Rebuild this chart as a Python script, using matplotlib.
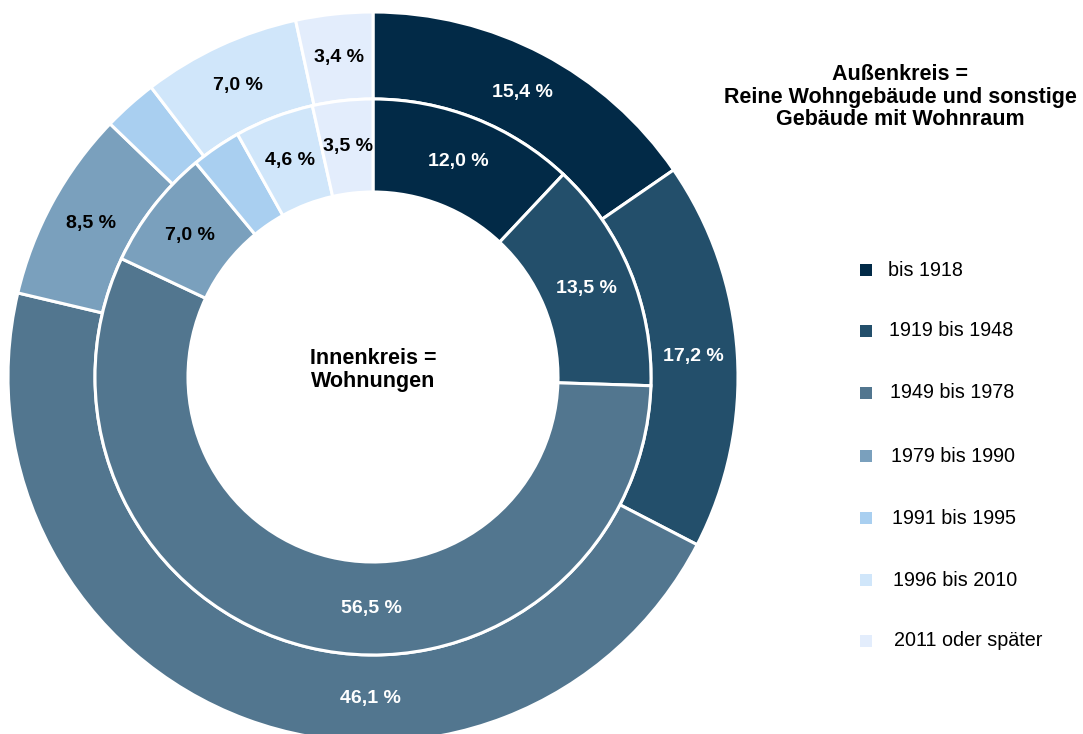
import numpy as np
import matplotlib
matplotlib.use("Agg")
import matplotlib.pyplot as plt

categories = ["bis 1918", "1919 bis 1948", "1949 bis 1978", "1979 bis 1990",
              "1991 bis 1995", "1996 bis 2010", "2011 oder später"]
outer_values = [15.4, 17.2, 46.1, 8.5, 2.4, 7.0, 3.4]   # Gebäude
inner_values = [12.0, 13.5, 56.5, 7.0, 2.9, 4.6, 3.5]   # Wohnungen
outer_labels = ["15,4 %", "17,2 %", "46,1 %", "8,5 %", "", "7,0 %", "3,4 %"]
inner_labels = ["12,0 %", "13,5 %", "56,5 %", "7,0 %", "", "4,6 %", "3,5 %"]
colors = ["#022a47", "#234f6b", "#52768f", "#7aa0bd", "#a9cff0", "#d0e6fa", "#e3edfc"]
text_colors = ["white", "white", "white", "black", "black", "black", "black"]

plt.rcParams['font.family'] = ['Liberation Sans', 'DejaVu Sans']

W, H = 1083, 734
fig = plt.figure(figsize=(W / 100, H / 100), dpi=100)
ax = fig.add_axes([0, 0, 1, 1])
ax.set_axis_off()

cx, cy = 373, H - 377
R_out, R_mid, R_in = 365, 278, 185

wo, _ = ax.pie(outer_values, colors=colors, startangle=90, counterclock=False,
               radius=R_out, center=(cx, cy),
               wedgeprops=dict(width=R_out - R_mid, edgecolor="white", linewidth=2.2))
wi, _ = ax.pie(inner_values, colors=colors, startangle=90, counterclock=False,
               radius=R_mid, center=(cx, cy),
               wedgeprops=dict(width=R_mid - R_in, edgecolor="white", linewidth=2.2))

# label of the largest segment sits straight below the centre (as in the original)
def label(wedges, labels, r):
    for i, (w, lab, tc) in enumerate(zip(wedges, labels, text_colors)):
        if not lab:
            continue
        deg = -90.5 if i == 2 else (w.theta1 + w.theta2) / 2
        ang = np.deg2rad(deg)
        ax.text(cx + r * np.cos(ang), cy + r * np.sin(ang), lab, ha="center", va="center",
                fontsize=14, fontweight="bold", color=tc)

label(wo, outer_labels, (R_out + R_mid) / 2)
label(wi, inner_labels, (R_mid + R_in) / 2)

ax.set_xlim(0, W)
ax.set_ylim(0, H)
ax.set_aspect("equal")

ax.text(cx, cy + 7, "Innenkreis =\nWohnungen", ha="center", va="center",
        fontsize=15.5, fontweight="bold", linespacing=1.1)

ax.text(900, H - 97, "Außenkreis =\nReine Wohngebäude und sonstige\nGebäude mit Wohnraum",
        ha="center", va="center", fontsize=15.5, fontweight="bold", linespacing=1.1)

ys = [270, 331, 393, 456, 518, 580, 641]
for i, (c, lab) in enumerate(zip(colors, categories)):
    y = H - ys[i]
    ax.scatter([866], [y], marker="s", s=70, color=c, linewidths=0)
    ax.text(888 + i, y, lab, ha="left", va="center", fontsize=14.2)

fig.savefig("out.png", dpi=100)
